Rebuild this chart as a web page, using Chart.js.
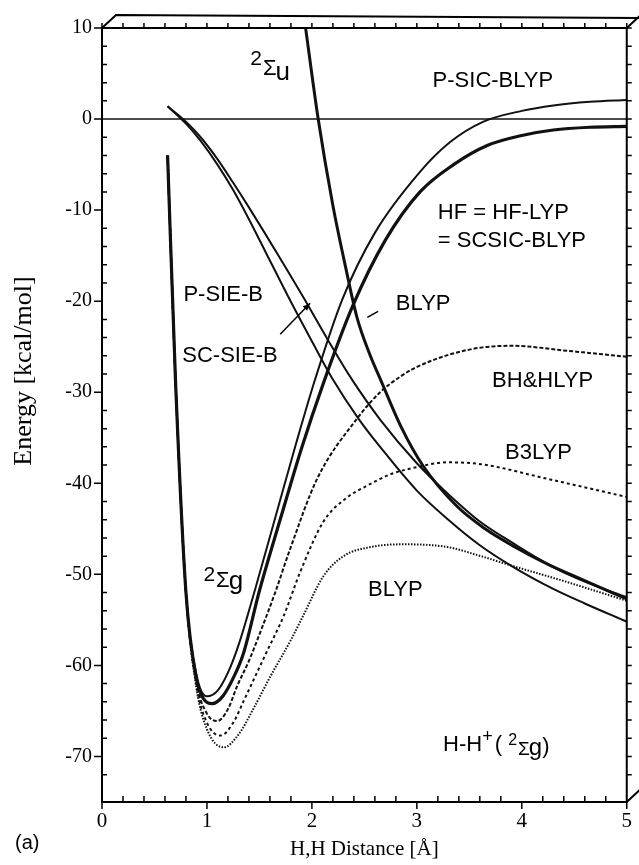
<!DOCTYPE html>
<html>
<head>
<meta charset="utf-8">
<script src="https://cdn.jsdelivr.net/npm/chart.js@4/dist/chart.umd.min.js"></script>
<style>
  body { margin: 0; background: #fff; }
</style>
</head>
<body>
<canvas id="pes" width="639" height="865"></canvas>
<script>
// H-H+ potential energy curves, distance in Angstrom, energy in kcal/mol
const distHF = [0.625, 0.70, 0.80, 0.90, 0.97, 1.05, 1.15, 1.25, 1.35, 1.50, 1.70, 1.90, 2.11, 2.39, 2.70, 3.03, 3.35, 3.67, 4.00, 4.30, 4.65, 5.0]
const energyHF = [-4, -28.6, -52, -61.5, -63.7, -64.2, -63.4, -61.4, -58.6, -51.8, -43.9, -36.2, -29.0, -20.5, -13.3, -8.0, -5.0, -2.9, -1.8, -1.2, -0.9, -0.8]

const distPSIC = [0.625, 0.70, 0.80, 0.90, 1.00, 1.10, 1.20, 1.30, 1.46, 1.65, 1.85, 2.03, 2.29, 2.60, 3.03, 3.32, 3.63, 4.00, 4.30, 4.65, 5.0]
const energyPSIC = [-4, -28.6, -52, -61, -63.4, -62.8, -60.8, -57.8, -51.6, -43.8, -35.6, -28.6, -19.8, -12.5, -5.8, -2.5, -0.3, 0.9, 1.5, 1.9, 2.1]

const distBHH = [0.625, 0.70, 0.80, 0.90, 1.00, 1.10, 1.20, 1.29, 1.40, 1.51, 1.65, 1.79, 2.05, 2.43, 2.65, 2.84, 2.97, 3.30, 3.61, 3.92, 4.39, 5.0]
const energyBHH = [-4, -28.6, -52, -61.8, -65.3, -66.1, -64.8, -62.2, -59.5, -56.3, -52.0, -47.3, -39.5, -32.9, -30.0, -28.3, -27.4, -25.9, -25.1, -24.9, -25.4, -26.1]

const distB3 = [0.625, 0.70, 0.80, 0.90, 1.00, 1.13, 1.25, 1.35, 1.46, 1.57, 1.73, 1.89, 2.11, 2.33, 2.52, 2.75, 2.97, 3.29, 3.61, 4.24, 5.0]
const energyB3 = [-4, -28.6, -52, -62.2, -66.3, -67.7, -66.3, -63.9, -61.2, -58.5, -54.6, -49.7, -44.2, -41.6, -40.3, -39.0, -38.3, -37.7, -37.9, -39.5, -41.5]

const distBLYP = [0.625, 0.70, 0.80, 0.90, 1.00, 1.16, 1.30, 1.45, 1.60, 1.80, 1.91, 2.11, 2.30, 2.56, 2.87, 3.29, 3.61, 3.92, 4.39, 5.0]
const energyBLYP = [-4, -28.6, -52, -62.5, -67, -69, -67.6, -64.6, -61.3, -57.2, -54.7, -50.2, -48.0, -47.0, -46.7, -47.0, -48.0, -49.1, -50.7, -52.9]

const distSigmaU = [1.94, 2.06, 2.20, 2.32, 2.43, 2.55, 2.65, 2.85, 3.06, 3.38, 3.65, 3.92, 4.25, 4.56, 5.0]
const energySigmaU = [10, 0, -9.5, -16.2, -21.8, -25.8, -28.5, -33.8, -38.1, -42.5, -45.0, -46.9, -48.9, -50.5, -52.7]

const distSIE1 = [0.625, 0.80, 0.94, 1.10, 1.25, 1.40, 1.55, 1.75, 1.92, 2.15, 2.37, 2.65, 3.0, 3.3, 3.6, 3.92, 4.3, 4.6, 5.0]
const energySIE1 = [1.4, -0.3, -2.0, -4.4, -7.0, -9.7, -12.5, -16.3, -19.6, -24.2, -28.4, -33, -37.8, -41.2, -44.2, -46.6, -49.2, -50.8, -52.5]

const distSIE2 = [0.625, 0.80, 0.94, 1.10, 1.25, 1.40, 1.55, 1.77, 2.0, 2.19, 2.45, 2.65, 3.0, 3.3, 3.6, 3.92, 4.3, 4.6, 5.0]
const energySIE2 = [1.4, -0.5, -2.4, -5.0, -7.8, -11.0, -14.4, -19.4, -24.4, -28.4, -33.0, -36, -40.8, -44.0, -46.8, -49.2, -51.6, -53.2, -55.2]

const distZero = [0, 5]
const energyZero = [0, 0]

function curve(xs, ys) {
  return xs.map((v, i) => ({ x: v, y: ys[i] }))
}

function line(xs, ys, width, dash) {
  return {
    data: curve(xs, ys),
    borderColor: '#111',
    borderWidth: width,
    borderDash: dash || [],
    pointRadius: 0,
    cubicInterpolationMode: 'monotone',
    fill: false
  }
}

const sans = '"Liberation Sans", Arial, sans-serif'
const serif = '"Liberation Serif", "Times New Roman", serif'

// text pieces: [text, size, baseline shift, extra gap]
function rich(ctx, px, py, parts) {
  let cx = px
  parts.forEach(p => {
    ctx.font = p[1] + 'px ' + sans
    ctx.fillText(p[0], cx, py + (p[2] || 0))
    cx += ctx.measureText(p[0]).width + (p[3] || 0)
  })
}

const decor = {
  id: 'decor',
  afterDraw(chart) {
    const { ctx, chartArea: a, scales: { x, y } } = chart
    ctx.save()
    ctx.strokeStyle = '#000'
    ctx.fillStyle = '#000'

    // frame with the box edges
    ctx.lineWidth = 2
    ctx.beginPath()
    ctx.rect(a.left, a.top, a.right - a.left, a.bottom - a.top)
    ctx.moveTo(a.left, a.top)
    ctx.lineTo(a.left + 14, a.top - 13)
    ctx.lineTo(chart.width, a.top - 10)
    ctx.moveTo(a.right, a.top)
    ctx.lineTo(a.right + 14, a.top - 13)
    ctx.moveTo(a.right, a.bottom)
    ctx.lineTo(a.right + 14, a.bottom - 13)
    ctx.stroke()

    // tick marks
    ctx.lineWidth = 1.5
    ctx.beginPath()
    x.ticks.forEach(t => {
      const px = x.getPixelForValue(t.value)
      const major = Math.abs(t.value - Math.round(t.value)) < 1e-6
      ctx.moveTo(px, a.bottom)
      ctx.lineTo(px, major ? a.bottom + 7 : a.bottom - 6)
      ctx.moveTo(px, a.top)
      ctx.lineTo(px, a.top - 5)
    })
    y.ticks.forEach(t => {
      if (Math.abs(t.value % 2) > 1e-6) return
      const py = y.getPixelForValue(t.value)
      const major = Math.abs(t.value % 10) < 1e-6
      ctx.moveTo(a.left, py)
      ctx.lineTo(major ? a.left - 8 : a.left + 5, py)
      ctx.moveTo(a.right, py)
      ctx.lineTo(a.right + 5, py)
    })
    ctx.stroke()

    // arrow to the SIE curves
    const ax0 = x.getPixelForValue(1.698), ay0 = y.getPixelForValue(-23.63)
    const ax1 = x.getPixelForValue(1.983), ay1 = y.getPixelForValue(-20.23)
    ctx.beginPath()
    ctx.moveTo(ax0, ay0)
    ctx.lineTo(ax1, ay1)
    ctx.stroke()
    const ang = Math.atan2(ay1 - ay0, ax1 - ax0)
    ctx.beginPath()
    ctx.moveTo(ax1, ay1)
    ctx.lineTo(ax1 - 8 * Math.cos(ang - 0.4), ay1 - 8 * Math.sin(ang - 0.4))
    ctx.lineTo(ax1 - 8 * Math.cos(ang + 0.4), ay1 - 8 * Math.sin(ang + 0.4))
    ctx.closePath()
    ctx.fill()

    // pointer from BLYP label
    ctx.beginPath()
    ctx.moveTo(x.getPixelForValue(2.528), y.getPixelForValue(-21.77))
    ctx.lineTo(x.getPixelForValue(2.631), y.getPixelForValue(-21.11))
    ctx.stroke()

    // labels
    ctx.textBaseline = 'alphabetic'
    ctx.textAlign = 'left'
    const at = (vx, vy) => [x.getPixelForValue(vx), y.getPixelForValue(vy)]
    let p
    p = at(3.15, 3.56); rich(ctx, p[0], p[1], [['P-SIC-BLYP', 22]])
    p = at(3.20, -11.0); rich(ctx, p[0], p[1], [['HF = HF-LYP', 22]])
    p = at(3.20, -14.0); rich(ctx, p[0], p[1], [['= SCSIC-BLYP', 22]])
    p = at(0.776, -20.0); rich(ctx, p[0], p[1], [['P-SIE-B', 22]])
    p = at(0.765, -26.7); rich(ctx, p[0], p[1], [['SC-SIE-B', 22]])
    p = at(2.80, -21.0); rich(ctx, p[0], p[1], [['BLYP', 22]])
    p = at(3.717, -29.4); rich(ctx, p[0], p[1], [['BH&HLYP', 22]])
    p = at(3.84, -37.3); rich(ctx, p[0], p[1], [['B3LYP', 22]])
    p = at(2.535, -52.4); rich(ctx, p[0], p[1], [['BLYP', 22]])
    p = at(1.413, 5.98); rich(ctx, p[0], p[1], [['2', 21, 0, 1], ['Σ', 22, 10, -1], ['u', 26, 15]])
    p = at(0.966, -50.7); rich(ctx, p[0], p[1], [['2', 21, 0, 1], ['Σ', 22, 6, -1], ['g', 26, 8]])
    p = at(3.25, -69.35); rich(ctx, p[0], p[1], [['H-H', 22], ['+', 18, -9, 2], ['( ', 22], ['2', 16, -6, 1], ['Σ', 19, 4, -1], ['g', 24, 4], [')', 22, 2]])

    // panel tag and energy axis title
    ctx.font = '20px ' + sans
    ctx.fillText('(a)', a.left - 87, a.bottom + 47)
    ctx.font = '26px ' + serif
    ctx.textAlign = 'center'
    ctx.textBaseline = 'middle'
    ctx.translate(24, a.top + 343)
    ctx.rotate(-Math.PI / 2)
    ctx.fillText('Energy [kcal/mol]', 0, 0)
    ctx.restore()
  }
}

new Chart(document.getElementById('pes'), {
  type: 'line',
  data: {
    datasets: [
      line(distZero, energyZero, 1.5),
      line(distSIE1, energySIE1, 2),
      line(distSIE2, energySIE2, 2),
      line(distSigmaU, energySigmaU, 3),
      line(distPSIC, energyPSIC, 2),
      line(distHF, energyHF, 3.2),
      line(distBHH, energyBHH, 2, [4, 2]),
      line(distB3, energyB3, 2, [3, 3]),
      line(distBLYP, energyBLYP, 2, [1.5, 1.5])
    ]
  },
  options: {
    responsive: false,
    animation: false,
    layout: { padding: { top: 28, right: 12, left: 0, bottom: 0 } },
    plugins: { legend: { display: false }, tooltip: { enabled: false } },
    scales: {
      x: {
        type: 'linear',
        min: 0,
        max: 5,
        grid: { display: false, drawTicks: false },
        border: { display: false },
        ticks: {
          stepSize: 0.2,
          autoSkip: false,
          maxRotation: 0,
          padding: 7,
          color: '#000',
          font: { family: serif, size: 21 },
          callback: v => Math.abs(v - Math.round(v)) < 1e-6 ? String(Math.round(v)) : ''
        },
        title: {
          display: true,
          text: 'H,H Distance [Å]',
          color: '#000',
          font: { family: serif, size: 21 },
          padding: { top: 0, bottom: 3 }
        },
        afterFit: s => { s.height = 63 }
      },
      y: {
        type: 'linear',
        min: -75,
        max: 10,
        grid: { display: false, drawTicks: false },
        border: { display: false },
        ticks: {
          stepSize: 2,
          autoSkip: false,
          padding: 10,
          color: '#000',
          font: { family: serif, size: 20 },
          callback: v => Math.abs(v % 10) < 1e-6 ? String(v) : ''
        },
        afterFit: s => { s.width = 102 }
      }
    }
  },
  plugins: [decor]
})
</script>
</body>
</html>
